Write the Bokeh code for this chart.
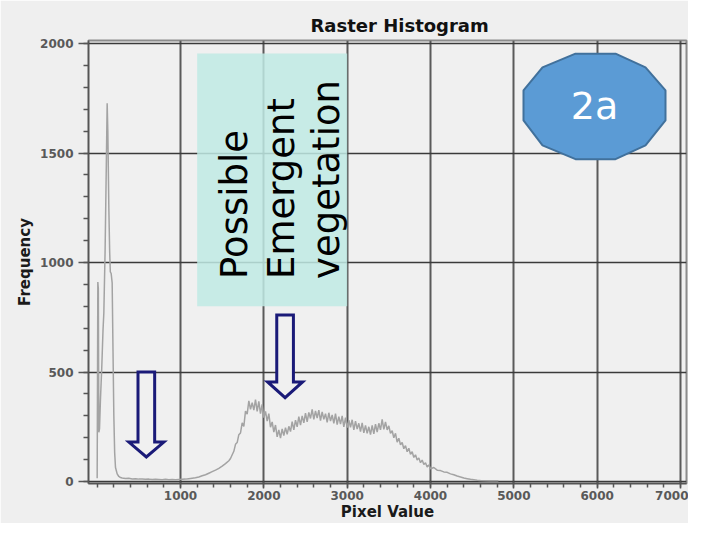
from math import pi
from bokeh.plotting import figure
from bokeh.models import Range1d, FixedTicker, BoxAnnotation, Label
from bokeh.embed import file_html
from bokeh.resources import INLINE

# ---- data ----
pixel_value = [
    0, 8, 14, 20, 28, 40, 55, 70, 80, 95, 110, 120, 128, 140, 150, 158, 168, 180, 190, 200,
    210, 220, 240, 260, 280, 300, 340, 380, 420, 460, 500, 540, 580, 620, 660, 700, 740, 780,
    820, 860, 900, 940, 980, 1020, 1060, 1100, 1140, 1180, 1220, 1260, 1300, 1340, 1380, 1420,
    1460, 1500, 1540, 1580,
    1600, 1640, 1660, 1680, 1700, 1720, 1740, 1760, 1780, 1800, 1820, 1840, 1860, 1880, 1900,
    1920, 1940, 1960, 1980, 2000, 2020, 2040, 2060, 2080, 2100, 2120, 2140, 2160, 2180, 2200,
    2220, 2240, 2260, 2280, 2300, 2320, 2340, 2360, 2380, 2400, 2420, 2440, 2460, 2480, 2500,
    2520, 2540, 2560, 2580, 2600, 2620, 2640, 2660, 2680, 2700, 2720, 2740, 2760, 2780, 2800,
    2820, 2840, 2860, 2880, 2900, 2920, 2940, 2960, 2980, 3000, 3020, 3040, 3060, 3080, 3100,
    3120, 3140, 3160, 3180, 3200, 3220, 3240, 3260, 3280, 3300, 3320, 3340, 3360, 3380, 3400,
    3420, 3440, 3460, 3480, 3500, 3520, 3540, 3560, 3580, 3600, 3620, 3640, 3660, 3680, 3700,
    3720, 3740, 3760, 3780, 3800, 3820, 3840, 3860, 3880, 3900, 3920, 3940, 3960, 3980, 4000,
    4040, 4080, 4120, 4160, 4200, 4240, 4280, 4320, 4360, 4400, 4440, 4480, 4520, 4560, 4600,
    4700, 4815,
]
frequency = [
    15, 911, 880, 225, 240, 380, 520, 690, 770, 1050, 1450, 1727, 1600, 1250, 1050, 957, 950, 907, 600, 300,
    132, 64, 35, 23, 18, 16, 14, 15, 12, 13, 11, 12, 10, 11, 9, 10, 9, 8,
    10, 8, 9, 8, 9, 10, 11, 13, 15, 17, 21, 26, 31, 38, 45, 52,
    60, 70, 82, 95,
    105, 138, 170, 178, 214, 222, 268, 252, 322, 308, 368, 330, 360, 326, 374,
    320, 366, 310, 352, 292, 320, 276, 310, 248, 272, 226, 258, 204, 236, 198,
    240, 210, 246, 216, 252, 228, 274, 236, 280, 250, 296, 258, 300, 268, 312,
    272, 316, 288, 330, 284, 322, 290, 326, 278, 318, 284, 310, 270, 314, 276,
    304, 266, 310, 260, 296, 262, 300, 250, 292, 246, 280, 248, 282, 236, 276,
    240, 266, 228, 268, 222, 256, 220, 250, 214, 256, 218, 262, 226, 266, 236,
    284, 238, 272, 236, 254, 220, 232, 200, 220, 180, 198, 168, 178, 150, 164,
    136, 152, 124, 136, 110, 122, 98, 108, 86, 98, 78, 86, 66, 76, 58,
    64, 52, 50, 44, 42, 35, 31, 25, 21, 16, 13, 10, 8, 6, 5,
    4, 3,
]

x_ticks = [1000, 2000, 3000, 4000, 5000, 6000, 7000]
x_minor_ticks = list(range(0, 7201, 200))
y_ticks = [0, 500, 1000, 1500, 2000]
y_minor_ticks = list(range(0, 2001, 100))

# annotation texts
box_lines = ["Possible", "Emergent", "vegetation"]
badge_text = "2a"

BG = "#f0f0f0"

p = figure(width=688, height=523,
           x_range=Range1d(-104, 7072), y_range=Range1d(-9, 2014),
           output_backend="svg", toolbar_location=None,
           min_border_left=88, min_border_right=2, min_border_top=40, min_border_bottom=39,
           title="Raster Histogram")

p.background_fill_color = BG
p.border_fill_color = "#efefef"
p.outline_line_color = "#8c8c8c"
p.outline_line_width = 2

p.title.text_font = "DejaVu Sans"
p.title.text_font_size = "18px"
p.title.text_font_style = "bold"
p.title.text_color = "#111111"
p.title.align = "left"
p.title.offset = 222
p.title.standoff = 9

# axes
p.xaxis.ticker = FixedTicker(ticks=x_ticks, minor_ticks=x_minor_ticks)
p.yaxis.ticker = FixedTicker(ticks=y_ticks, minor_ticks=y_minor_ticks)
p.xaxis.axis_label = "Pixel Value"
p.yaxis.axis_label = "Frequency"
for ax in (p.xaxis, p.yaxis):
    ax.axis_label_text_font = "DejaVu Sans"
    ax.axis_label_text_font_style = "bold"
    ax.axis_label_text_color = "#1a1a1a"
    ax.major_label_text_font = "DejaVu Sans"
    ax.major_label_text_font_style = "bold"
    ax.major_label_text_font_size = "12px"
    ax.major_label_text_color = "#595959"
    ax.axis_line_color = "#555555"
    ax.axis_line_width = 1.5
    ax.major_tick_line_color = "#555555"
    ax.major_tick_line_width = 1.5
    ax.minor_tick_line_color = "#555555"
    ax.minor_tick_line_width = 1.5
p.xaxis.axis_label_text_font_size = "15px"
p.yaxis.axis_label_text_font_size = "15px"
p.xaxis.major_tick_out = 5
p.xaxis.major_tick_in = 2
p.xaxis.minor_tick_out = 4
p.xaxis.minor_tick_in = 0
p.xaxis.major_label_standoff = 2
p.xaxis.axis_label_standoff = 0
p.yaxis.major_tick_out = 10
p.yaxis.major_tick_in = 0
p.yaxis.minor_tick_out = 5
p.yaxis.minor_tick_in = 0
p.yaxis.major_label_standoff = 5
p.yaxis.axis_label_standoff = 3

p.xgrid.grid_line_color = "#5a5a5a"
p.xgrid.grid_line_width = 2
p.ygrid.grid_line_color = "#3a3a3a"
p.ygrid.grid_line_width = 1.5

# histogram curve
p.line(pixel_value, frequency, line_color="#a3a3a3", line_width=1.5)

# highlighted region
box = BoxAnnotation(left=1200, right=3000, bottom=800, top=1955,
                    fill_color="#bfeae4", fill_alpha=0.85, line_color=None)
p.add_layout(box)

text_anchor_x = [1648, 2212, 2752]
text_anchor_y = [925, 925, 925]
for tx, ty, t in zip(text_anchor_x, text_anchor_y, box_lines):
    p.add_layout(Label(x=tx, y=ty, text=t, angle=pi / 2,
                       text_font="DejaVu Sans", text_font_size="37px",
                       text_color="#000000", text_align="left",
                       text_baseline="alphabetic"))

# arrows (outlined)
def arrow(cx, top, base, tip):
    xs = [cx - 100, cx + 100, cx + 100, cx + 210, cx, cx - 210, cx - 100]
    ys = [top, top, base, base, tip, base, base]
    return xs, ys

for cx, top, base, tip in [(590, 500, 180, 112), (2255, 760, 455, 383)]:
    xs, ys = arrow(cx, top, base, tip)
    p.patch(xs, ys, fill_color=BG, line_color="#1a1a78", line_width=3, line_join="miter")

# badge "2a"
badge_x = [5740, 6220, 6580, 6820, 6820, 6580, 6220, 5740, 5344, 5116, 5116, 5344]
badge_y = [1954, 1954, 1891, 1786, 1649, 1535, 1472, 1472, 1535, 1649, 1786, 1891]
p.patch(badge_x, badge_y, fill_color="#5b9bd5", line_color="#41719c", line_width=2)
p.add_layout(Label(x=5968, y=1713, text=badge_text, text_font="DejaVu Sans",
                   text_font_size="38px", text_color="white",
                   text_align="center", text_baseline="middle"))

open("out.html", "w").write(file_html(p, INLINE))
